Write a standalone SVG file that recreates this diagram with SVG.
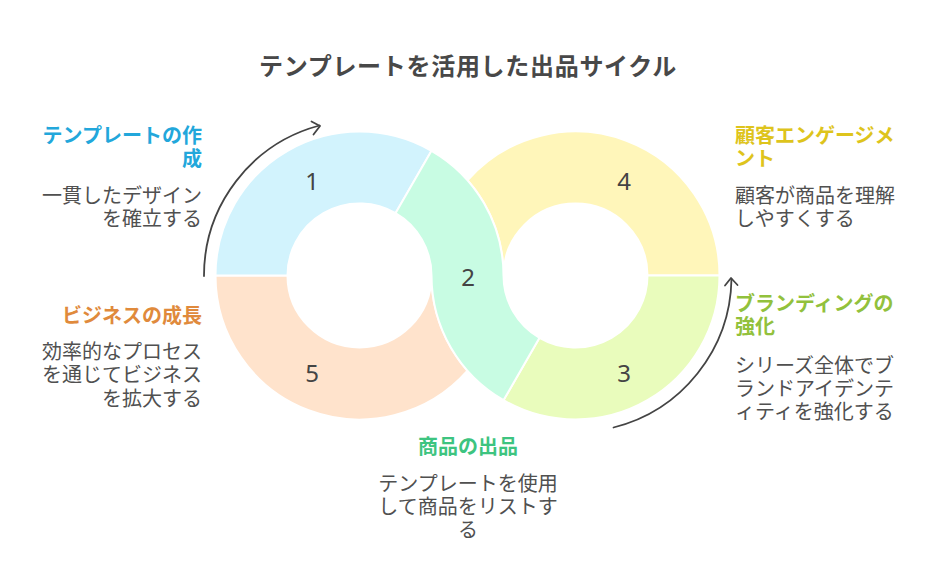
<svg xmlns="http://www.w3.org/2000/svg" width="936" height="588" viewBox="0 0 936 588">
<style>
.seg{stroke:#ffffff;stroke-width:2;stroke-linejoin:round}
.num{font-family:"Noto Sans","Noto Sans CJK JP",sans-serif;font-size:24px;fill:#444444;text-anchor:middle}
.h{font-family:"Noto Sans CJK JP",sans-serif;font-size:20px;font-weight:bold}
.b{font-family:"Noto Sans CJK JP",sans-serif;font-size:20px;fill:#505050}
.title{font-family:"Noto Sans CJK JP",sans-serif;font-size:24px;font-weight:bold;fill:#484848;text-anchor:middle;letter-spacing:0.7px}
.arr{fill:none;stroke:#444444;stroke-width:1.8;stroke-linecap:round;stroke-linejoin:round}
</style>
<rect width="936" height="588" fill="#ffffff"/>
<text class="title" x="468" y="75">テンプレートを活用した出品サイクル</text>

<g id="seg5">
<path class="seg" fill="#FFE3CC" d="M215.5,275.5 A144,144 0 0 0 467.5,370.75 A144,144 0 0 1 431.5,275.5 A72,72 0 0 1 287.5,275.5 Z"/>
<text class="num" x="312" y="382">5</text>
</g>
<g id="seg4">
<path class="seg" fill="#FFF6BA" d="M719.5,275.5 A144,144 0 0 0 467.5,180.25 A144,144 0 0 1 503.5,275.5 A72,72 0 0 1 647.5,275.5 Z"/>
<text class="num" x="624" y="190">4</text>
</g>
<g id="seg1">
<path class="seg" fill="#D2F3FD" d="M215.5,275.5 A144,144 0 0 1 431.5,150.79 L395.5,213.15 A72,72 0 0 0 287.5,275.5 Z"/>
<text class="num" x="312" y="190">1</text>
</g>
<g id="seg3">
<path class="seg" fill="#E9FCBC" d="M719.5,275.5 A144,144 0 0 1 503.5,400.21 L539.5,337.85 A72,72 0 0 0 647.5,275.5 Z"/>
<text class="num" x="624" y="382">3</text>
</g>
<g id="seg2">
<path class="seg" fill="#C8FCE3" d="M431.5,150.79 A144,144 0 0 1 503.5,275.5 A72,72 0 0 0 539.5,337.85 L503.5,400.21 A144,144 0 0 1 431.5,275.5 A72,72 0 0 0 395.5,213.15 Z"/>
<text class="num" x="468" y="286">2</text>
</g>

<g id="connectors">
<path class="arr" d="M204,276 A155.5,155.5 0 0 1 319.5,125.5"/>
<path class="arr" d="M311.5,121.5 L320,126 L313.5,134.5"/>
<path class="arr" d="M613.5,427.5 A156,156 0 0 0 731.5,279"/>
<path class="arr" d="M725,285.5 L731,278 L737.5,285"/>
</g>

<g id="label1">
<text class="h" fill="#22A7DB" text-anchor="end"><tspan x="202" y="142.5">テンプレートの作</tspan><tspan x="202" y="166">成</tspan></text>
<text class="b" text-anchor="end"><tspan x="202" y="202.5">一貫したデザイン</tspan><tspan x="202" y="226">を確立する</tspan></text>
</g>
<g id="label5">
<text class="h" fill="#E08A3C" text-anchor="end"><tspan x="202" y="322.5">ビジネスの成長</tspan></text>
<text class="b" text-anchor="end"><tspan x="202" y="359">効率的なプロセス</tspan><tspan x="202" y="382.3">を通じてビジネス</tspan><tspan x="202" y="405.6">を拡大する</tspan></text>
</g>
<g id="label4">
<text class="h" fill="#DEC41C"><tspan x="735" y="142.5">顧客エンゲージメ</tspan><tspan x="735" y="166">ント</tspan></text>
<text class="b"><tspan x="735" y="202.5">顧客が商品を理解</tspan><tspan x="735" y="226">しやすくする</tspan></text>
</g>
<g id="label3">
<text class="h" fill="#92C13C"><tspan x="735" y="311">ブランディングの</tspan><tspan x="735" y="334.3">強化</tspan></text>
<text class="b"><tspan x="735" y="372.5">シリーズ全体でブ</tspan><tspan x="735" y="395.8">ランドアイデンテ</tspan><tspan x="735" y="419.1">ィティを強化する</tspan></text>
</g>
<g id="label2">
<text class="h" fill="#3DC480" text-anchor="middle"><tspan x="468" y="454">商品の出品</tspan></text>
<text class="b" text-anchor="middle"><tspan x="468" y="491">テンプレートを使用</tspan><tspan x="468" y="514">して商品をリストす</tspan><tspan x="468" y="537">る</tspan></text>
</g>
</svg>
